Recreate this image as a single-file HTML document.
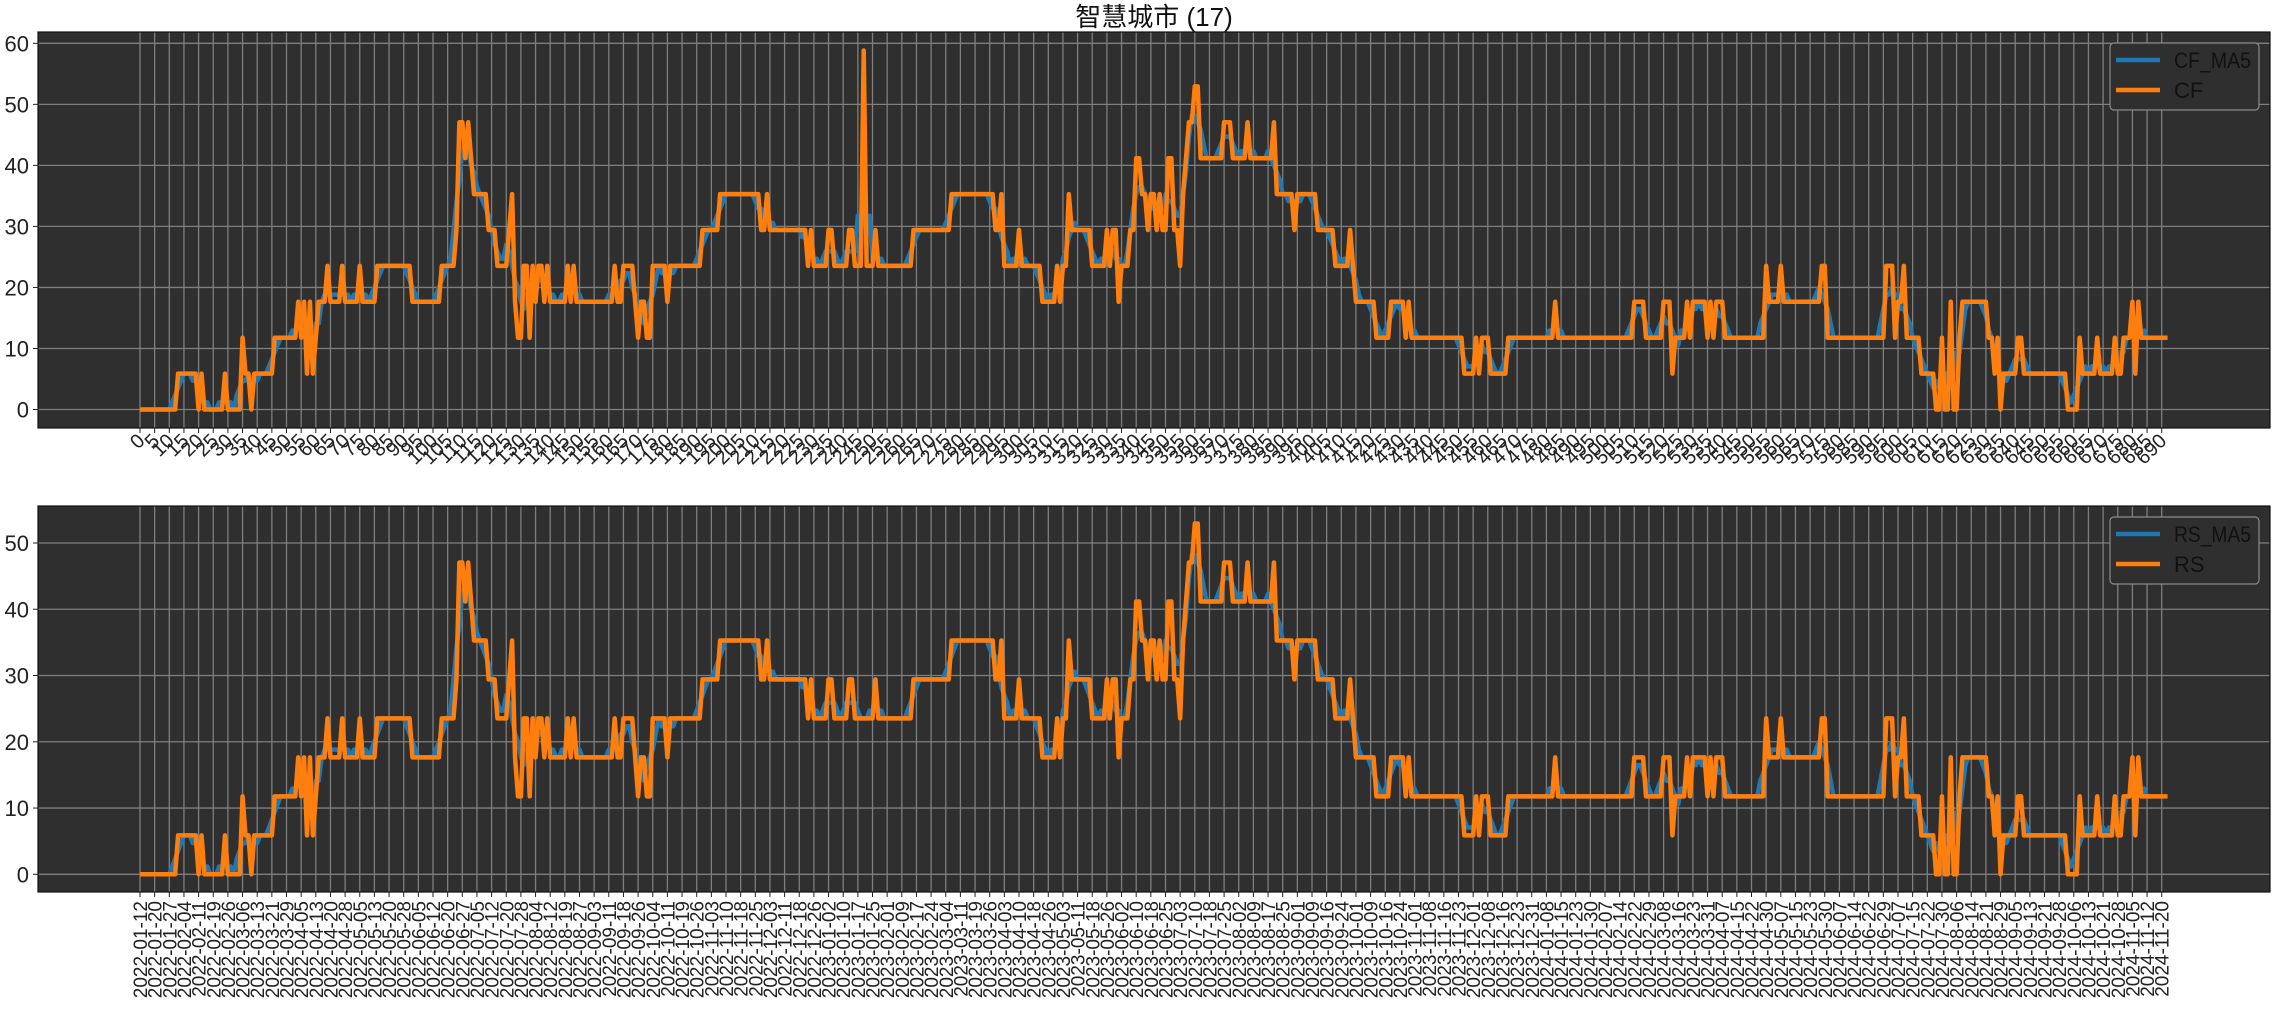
<!DOCTYPE html>
<html><head><meta charset="utf-8">
<style>
html,body{margin:0;padding:0;background:#fff;}
svg{display:block;font-family:"Liberation Sans","Noto Sans CJK SC",sans-serif;}
</style></head>
<body>
<svg id="chart" width="2276" height="1026" viewBox="0 0 2276 1026" xmlns="http://www.w3.org/2000/svg">
<text x="1154" y="26" font-size="26" text-anchor="middle" fill="#111">智慧城市 (17)</text>
</svg>
<script>
// ---- data (count k out of 17, run-length: start index & level) ----
const cfRunStart = [0,13,20,21,22,29,30,35,36,38,39,46,54,55,56,57,58,59,60,61,64,65,69,70,75,76,81,93,103,108,109,111,112,113,114,119,122,126,127,128,129,131,133,134,135,136,138,139,140,146,147,148,149,162,163,165,169,170,171,173,175,180,181,192,198,212,214,215,228,229,230,235,237,242,244,247,248,251,252,264,277,292,294,295,300,301,308,313,314,315,317,318,325,330,331,332,334,335,338,340,342,344,345,347,348,349,351,353,355,356,357,358,360,362,370,373,378,379,387,388,394,395,402,408,413,414,415,422,427,432,433,434,452,456,457,458,461,467,483,484,510,514,520,523,524,528,529,530,535,536,537,538,541,555,556,560,561,574,576,596,599,600,602,603,608,613,615,616,618,619,621,622,631,633,634,635,636,641,643,658,662,663,668,669,674,675,677,680,681,682,683];
const cfRunLevel = [0,1,0,1,0,1,0,2,1,0,1,2,3,2,3,1,3,1,2,3,4,3,4,3,4,3,4,3,4,5,8,7,8,7,6,5,4,5,6,3,2,4,2,4,3,4,3,4,3,4,3,4,3,4,3,4,3,2,3,2,4,3,4,5,6,5,6,5,4,5,4,5,4,5,4,10,4,5,4,5,6,5,6,4,5,4,3,4,3,4,6,5,4,5,4,5,3,4,5,7,6,5,6,5,6,5,7,5,4,6,7,8,9,7,8,7,8,7,8,6,5,6,5,4,5,4,3,2,3,2,3,2,1,2,1,2,1,2,3,2,3,2,3,1,2,3,2,3,2,3,2,3,2,4,3,4,3,4,2,4,2,3,4,2,1,0,2,0,3,0,2,3,2,1,2,0,1,2,1,0,2,1,2,1,2,1,2,3,1,3,2];
const rsRunStart = cfRunStart.slice();
const rsRunLevel = cfRunLevel.slice(0,75).concat([4]).concat(cfRunLevel.slice(76));
const seriesLength = 693;
const groupSize = 17;
const yTicksTop = [0,10,20,30,40,50,60];
const yTicksBottom = [0,10,20,30,40,50];
const xTickStep = 5;
const dateStart = "2022-01-12";
const dateEnd = "2024-11-20";

function expand(starts, levels){
  const out=[];
  for(let r=0;r<starts.length;r++){
    const end = r+1<starts.length?starts[r+1]:seriesLength;
    for(let i=starts[r];i<end;i++) out.push(levels[r]*100/groupSize);
  }
  return out;
}
const CF = expand(cfRunStart, cfRunLevel);
const RS = expand(rsRunStart, rsRunLevel);
function ma5(a){
  const o=[];
  for(let i=0;i<a.length;i++){
    const lo=Math.max(0,i-2), hi=Math.min(a.length-1,i+2);
    let s=0; for(let j=lo;j<=hi;j++) s+=a[j];
    o.push(s/(hi-lo+1));
  }
  return o;
}
const CF_MA5 = ma5(CF), RS_MA5 = ma5(RS);

const NS="http://www.w3.org/2000/svg";
const svg=document.getElementById('chart');
function mk(tag, attrs, parent){
  const e=document.createElementNS(NS,tag);
  for(const k in attrs) e.setAttribute(k,attrs[k]);
  (parent||svg).appendChild(e); return e;
}
const X0=38, X1=2270;
const xs = i => 140 + i*2.930;
const panels = [
  {top:32,bottom:428, y:v=>409.5-v*6.103, ticks:yTicksTop, a:CF_MA5, b:CF, na:'CF_MA5', nb:'CF', id:'top'},
  {top:506,bottom:892, y:v=>874.3-v*6.626, ticks:yTicksBottom, a:RS_MA5, b:RS, na:'RS_MA5', nb:'RS', id:'bottom'}
];
const nTicks = Math.floor((seriesLength-1)/xTickStep)+1;
const d0=new Date(dateStart+"T00:00:00Z"), d1=new Date(dateEnd+"T00:00:00Z");
const dateLabels=[];
for(let t=0;t<nTicks;t++){
  const d=new Date(d0.getTime()+Math.round(t*(d1-d0)/(nTicks-1)/86400000)*86400000);
  dateLabels.push(d.toISOString().slice(0,10));
}
panels.forEach((p,pi)=>{
  const g=mk('g',{});
  
  
  const bg=mk('rect',{x:X0,y:p.top,width:X1-X0,height:p.bottom-p.top,fill:'#2f2f2f'},g);
  
  
  p.ticks.forEach(v=>{
    const yy=p.y(v);
    const gl=mk('line',{x1:X0,x2:X1,y1:yy,y2:yy,stroke:'#7f7f7f','stroke-width':1.3},g);
    
    
    mk('line',{x1:X0-5,x2:X0,y1:yy,y2:yy,stroke:'#222','stroke-width':1},g);
    const tl=mk('text',{x:X0-9,y:yy+8,'font-size':22,'text-anchor':'end',fill:'#222'},g);
    tl.textContent=v;
    
    
  });
  for(let t=0;t<nTicks;t++){
    const i=t*xTickStep, xx=xs(i);
    const gl=mk('line',{x1:xx,x2:xx,y1:p.top,y2:p.bottom,stroke:'#7f7f7f','stroke-width':1.3},g);
    
    
    mk('line',{x1:xx,x2:xx,y1:p.bottom,y2:p.bottom+5,stroke:'#222','stroke-width':1},g);
    let tl;
    if(pi===0){
      tl=mk('text',{x:0,y:0,'font-size':20,'text-anchor':'end',fill:'#222',transform:`translate(${xx+6},${p.bottom+14}) rotate(-45)`},g);
      tl.textContent=String(i);
    } else {
      tl=mk('text',{x:0,y:0,'font-size':19,'text-anchor':'end',fill:'#222',transform:`translate(${xx+7},${p.bottom+9}) rotate(-90)`},g);
      tl.textContent=dateLabels[t];
    }
    
    
  }
  const lastMA = seriesLength-6;
  let da='';
  for(let i=0;i<=lastMA;i++) da+=(i?'L':'M')+xs(i).toFixed(2)+','+p.y(p.a[i]).toFixed(2);
  const la=mk('path',{d:da,fill:'none',stroke:'#1f77b4','stroke-width':4.5,'stroke-linejoin':'round'},g);
  
  
  let db='';
  for(let i=0;i<p.b.length;i++) db+=(i?'L':'M')+xs(i).toFixed(2)+','+p.y(p.b[i]).toFixed(2);
  const lb=mk('path',{d:db,fill:'none',stroke:'#ff7f0e','stroke-width':4.5,'stroke-linejoin':'round'},g);
  
  
  mk('rect',{x:X0,y:p.top,width:X1-X0,height:p.bottom-p.top,fill:'none',stroke:'#111','stroke-width':1.2},g);
  const lg=mk('g',{},g);
  
  
  const ly=p.top+11;
  mk('rect',{x:2110,y:ly,width:149,height:67,rx:4,fill:'#2f2f2f',stroke:'#8a8a8a','stroke-width':1.2},lg);
  [[p.na,'#1f77b4',ly+17,77],[p.nb,'#ff7f0e',ly+47,0]].forEach(([nm,c,yy,tlen])=>{
    mk('line',{x1:2116,x2:2160,y1:yy,y2:yy,stroke:c,'stroke-width':4.5},lg);
    const attrs={x:2174,y:yy+8,'font-size':22,fill:'#111'};
    if(tlen){attrs.textLength=tlen;attrs.lengthAdjust='spacingAndGlyphs';}
    const tx=mk('text',attrs,lg);
    tx.textContent=nm;
    
    
  });
});
</script>
</body></html>
